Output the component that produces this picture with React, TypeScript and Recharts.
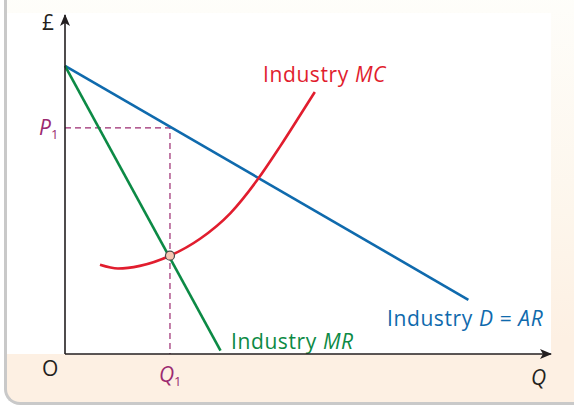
import {
  ComposedChart,
  Line,
  XAxis,
  YAxis,
  ReferenceDot,
} from "recharts";

// quantity / price points (Q 0-100, £ 0-100)
const demand = [
  { q: 0, p: 85 },
  { q: 83, p: 16 },
];
const marginalRevenue = [
  { q: 0, p: 85 },
  { q: 32, p: 1 },
];
const marginalCost = [
  { q: 7.2, p: 26.3 },
  { q: 10.9, p: 25.2 },
  { q: 15.4, p: 26.0 },
  { q: 21.6, p: 29.0 },
  { q: 27.8, p: 34.0 },
  { q: 34.0, p: 41.5 },
  { q: 39.7, p: 51.6 },
  { q: 44.2, p: 61.1 },
  { q: 48.4, p: 70.5 },
  { q: 51.4, p: 77.3 },
];
const q1 = 21.6;
const p1 = 66.7;
const equilibrium = { q: 21.6, p: 29.0 };
const guide = [
  { q: 0, p: p1 },
  { q: q1, p: p1 },
  { q: q1, p: 0 },
];
const xTicks = [q1];
const yTicks = [p1];
const xTickLabels = ["Q"];
const yTickLabels = ["P"];

const BLUE = "#0f6aad";
const GREEN = "#0c8a45";
const RED = "#e11d2e";
const PURPLE = "#9b2a70";
const INK = "#231f20";
const FONT = "'Open Sans', sans-serif";
const FS = 21;

const XTick = (props: any) => {
  const { x, y, index } = props;
  return (
    <text x={x - 11} y={y + 20} fill={PURPLE} fontFamily={FONT} fontSize={FS}>
      <tspan fontStyle="italic">{xTickLabels[index]}</tspan>
      <tspan fontSize={13} dy={4}>1</tspan>
    </text>
  );
};

const YTick = (props: any) => {
  const { y, index } = props;
  return (
    <text x={39} y={y + 7} fill={PURPLE} fontFamily={FONT} fontSize={FS}>
      <tspan fontStyle="italic">{yTickLabels[index]}</tspan>
      <tspan fontSize={13} dy={4}>1</tspan>
    </text>
  );
};

const App = () => {
  return (
    <div
      style={{
        position: "absolute",
        left: 0,
        top: 0,
        width: 574,
        height: 410,
        overflow: "hidden",
        background: "#ffffff",
      }}
    >
      {/* panel */}
      <div
        style={{
          position: "absolute",
          left: 4,
          top: -20,
          width: 600,
          height: 425,
          boxSizing: "border-box",
          borderLeft: "3px solid #c9c9c9",
          borderBottom: "3px solid #c9c9c9",
          borderBottomLeftRadius: 16,
          background: "linear-gradient(#fefefb 0%, #fdf6ec 55%, #fdf0e3 85%)",
        }}
      />
      <div
        style={{
          position: "absolute",
          left: 7,
          top: 13,
          width: 544,
          height: 341,
          background: "#ffffff",
        }}
      />
      <ComposedChart
        width={574}
        height={410}
        margin={{ top: 15, right: 23, left: 35, bottom: 26 }}
        style={{ position: "absolute", left: 0, top: 0 }}
      >
        <defs>
          <marker
            id="arrow"
            viewBox="0 0 12 10"
            refX="11"
            refY="5"
            markerWidth="12"
            markerHeight="10"
            markerUnits="userSpaceOnUse"
            orient="auto-start-reverse"
          >
            <path d="M0,0 L12,5 L0,10 L3,5 Z" fill={INK} />
          </marker>
        </defs>
        <XAxis
          type="number"
          dataKey="q"
          domain={[0, 100]}
          ticks={xTicks}
          height={30}
          tickLine={false}
          tick={<XTick />}
          axisLine={{ stroke: INK, strokeWidth: 1.6, markerEnd: "url(#arrow)" }}
        />
        <YAxis
          type="number"
          dataKey="p"
          domain={[0, 100]}
          ticks={yTicks}
          width={30}
          tickLine={false}
          tick={<YTick />}
          axisLine={{ stroke: INK, strokeWidth: 1.6, markerStart: "url(#arrow)" }}
        />
        <Line
          data={guide}
          dataKey="p"
          type="linear"
          stroke={PURPLE}
          strokeWidth={1.2}
          strokeDasharray="6 4"
          dot={false}
          isAnimationActive={false}
        />
        <Line
          data={demand}
          dataKey="p"
          type="linear"
          stroke={BLUE}
          strokeWidth={2.6}
          dot={false}
          isAnimationActive={false}
        />
        <Line
          data={marginalRevenue}
          dataKey="p"
          type="linear"
          stroke={GREEN}
          strokeWidth={2.6}
          dot={false}
          isAnimationActive={false}
        />
        <Line
          data={marginalCost}
          dataKey="p"
          type="monotone"
          stroke={RED}
          strokeWidth={2.6}
          dot={false}
          isAnimationActive={false}
        />
        <ReferenceDot
          x={equilibrium.q}
          y={equilibrium.p}
          r={4.5}
          fill="#f7c6b2"
          stroke="#4a4a4a"
          strokeWidth={1.2}
        />
        <text x={42} y={30} fill={INK} fontFamily={FONT} fontSize={FS}>£</text>
        <text x={42} y={376} fill={INK} fontFamily={FONT} fontSize={FS}>O</text>
        <text x={531} y={385} fill={INK} fontFamily={FONT} fontSize={FS} fontStyle="italic">Q</text>
        <text x={263} y={82} fill={RED} fontFamily={FONT} fontSize={FS} letterSpacing={0.6}>
          Industry <tspan fontStyle="italic">MC</tspan>
        </text>
        <text x={231} y={349} fill={GREEN} fontFamily={FONT} fontSize={FS} letterSpacing={0.6}>
          Industry <tspan fontStyle="italic">MR</tspan>
        </text>
        <text x={387} y={326} fill={BLUE} fontFamily={FONT} fontSize={FS} letterSpacing={0.6}>
          Industry <tspan fontStyle="italic">D</tspan> = <tspan fontStyle="italic">AR</tspan>
        </text>
      </ComposedChart>
    </div>
  );
};

export default App;
